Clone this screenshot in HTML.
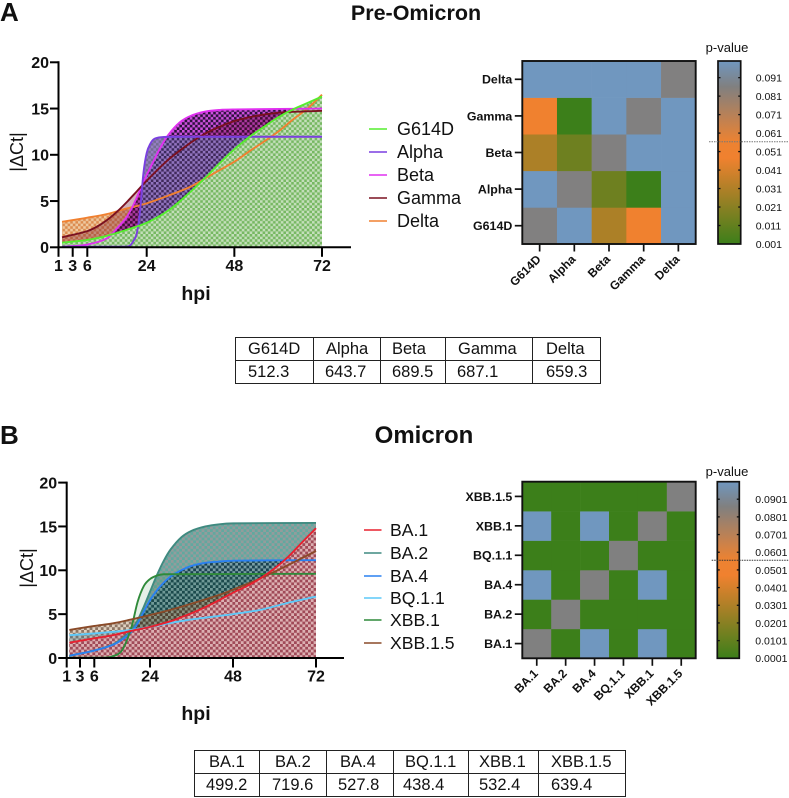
<!DOCTYPE html>
<html lang="en">
<head>
<meta charset="utf-8">
<title>Pre-Omicron and Omicron comparison</title>
<style>
html,body{margin:0;padding:0;background:#fff;}
body{width:789px;height:798px;position:relative;overflow:hidden;font-family:"Liberation Sans",Arial,sans-serif;}
svg{position:absolute;left:0;top:0;}
text{font-family:"Liberation Sans",Arial,sans-serif;fill:#111;}
table{position:absolute;border-collapse:collapse;table-layout:fixed;font-size:16.5px;color:#111;border:1.7px solid #222;}
td{border:1.4px solid #222;padding:0 0 0 0;height:22px;line-height:22px;white-space:nowrap;overflow:hidden;}
</style>
</head>
<body>
<svg id="fig" width="789" height="798" viewBox="0 0 789 798" xmlns="http://www.w3.org/2000/svg">
<defs>
<pattern id="pGreen" patternUnits="userSpaceOnUse" width="5.2" height="5.2"><rect width="5.2" height="5.2" fill="#c4dfbb"/><rect width="2.6" height="2.6" fill="#76b862"/><rect x="2.6" y="2.6" width="2.6" height="2.6" fill="#76b862"/></pattern>
<pattern id="pBeta" patternUnits="userSpaceOnUse" width="5.2" height="5.2"><rect width="5.2" height="5.2" fill="#2c0f3c"/><rect width="2.6" height="2.6" fill="#cc50dc"/><rect x="2.6" y="2.6" width="2.6" height="2.6" fill="#cc50dc"/></pattern>
<pattern id="pAlpha" patternUnits="userSpaceOnUse" width="5.2" height="5.2"><rect width="5.2" height="5.2" fill="#3f3468" fill-opacity=".72"/><rect width="2.6" height="2.6" fill="#9a80cc" fill-opacity=".85"/><rect x="2.6" y="2.6" width="2.6" height="2.6" fill="#9a80cc" fill-opacity=".85"/></pattern>
<pattern id="pDelta" patternUnits="userSpaceOnUse" width="5.2" height="5.2"><rect width="5.2" height="5.2" fill="#eec9a0"/><rect width="2.6" height="2.6" fill="#dc8c50"/><rect x="2.6" y="2.6" width="2.6" height="2.6" fill="#dc8c50"/></pattern>
<pattern id="pBA2" patternUnits="userSpaceOnUse" width="5.6" height="5.6"><rect width="5.6" height="5.6" fill="#939c9c"/><rect width="2.8" height="2.8" fill="#62a89f"/><rect x="2.8" y="2.8" width="2.8" height="2.8" fill="#62a89f"/></pattern>
<pattern id="pBA4" patternUnits="userSpaceOnUse" width="5.6" height="5.6"><rect width="5.6" height="5.6" fill="#4d9cb0" fill-opacity=".35"/><rect width="2.8" height="2.8" fill="#0f3040" fill-opacity=".85"/><rect x="2.8" y="2.8" width="2.8" height="2.8" fill="#0f3040" fill-opacity=".85"/></pattern>
<pattern id="pXBB15" patternUnits="userSpaceOnUse" width="5.6" height="5.6"><rect width="5.6" height="5.6" fill="#b08a60" fill-opacity=".4"/><rect width="2.8" height="2.8" fill="#4a2a1a" fill-opacity=".55"/><rect x="2.8" y="2.8" width="2.8" height="2.8" fill="#4a2a1a" fill-opacity=".55"/></pattern>
<pattern id="pBA1" patternUnits="userSpaceOnUse" width="5.6" height="5.6"><rect width="5.6" height="5.6" fill="#dcb0b2"/><rect width="2.8" height="2.8" fill="#a04a58"/><rect x="2.8" y="2.8" width="2.8" height="2.8" fill="#a04a58"/></pattern>
<linearGradient id="barGrad" x1="0" y1="1" x2="0" y2="0">
<stop offset="0" stop-color="#3c7f1a"/><stop offset=".47" stop-color="#f0812f"/><stop offset=".56" stop-color="#ec8232"/><stop offset=".86" stop-color="#808080"/><stop offset="1" stop-color="#7097bf"/>
</linearGradient>
</defs>

<text x="0" y="21" font-size="26" font-weight="bold">A</text>
<text x="416" y="20" font-size="21.5" font-weight="bold" text-anchor="middle">Pre-Omicron</text>
<text x="0" y="444" font-size="26" font-weight="bold">B</text>
<text x="424" y="443" font-size="24" font-weight="bold" text-anchor="middle">Omicron</text>

<text transform="translate(23,152) rotate(-90)" font-size="18" text-anchor="middle">|&#916;Ct|</text>
<text x="196" y="300" font-size="19.5" font-weight="bold" text-anchor="middle">hpi</text>
<text transform="translate(33,568) rotate(-90)" font-size="18" text-anchor="middle">|&#916;Ct|</text>
<text x="196" y="720" font-size="19.5" font-weight="bold" text-anchor="middle">hpi</text>

<g font-size="18">
<line x1="369" x2="387" y1="129" y2="129" stroke="#55ee2e" stroke-width="1.6"/><text x="397" y="135">G614D</text>
<line x1="369" x2="387" y1="152" y2="152" stroke="#7a3fe0" stroke-width="1.6"/><text x="397" y="158">Alpha</text>
<line x1="369" x2="387" y1="175" y2="175" stroke="#e030f0" stroke-width="1.6"/><text x="397" y="181">Beta</text>
<line x1="369" x2="387" y1="198" y2="198" stroke="#7a1020" stroke-width="1.6"/><text x="397" y="204">Gamma</text>
<line x1="369" x2="387" y1="221" y2="221" stroke="#f08030" stroke-width="1.6"/><text x="397" y="227">Delta</text>
</g>
<g font-size="17.6">
<line x1="364" x2="381.5" y1="530" y2="530" stroke="#e8202f" stroke-width="1.6"/><text x="390" y="536">BA.1</text>
<line x1="364" x2="381.5" y1="553" y2="553" stroke="#3f8a80" stroke-width="1.6"/><text x="390" y="559">BA.2</text>
<line x1="364" x2="381.5" y1="576" y2="576" stroke="#2a80f0" stroke-width="1.6"/><text x="390" y="582">BA.4</text>
<line x1="364" x2="381.5" y1="598" y2="598" stroke="#5cc8f8" stroke-width="1.6"/><text x="390" y="604">BQ.1.1</text>
<line x1="364" x2="381.5" y1="620" y2="620" stroke="#2f8a3a" stroke-width="1.6"/><text x="390" y="626">XBB.1</text>
<line x1="364" x2="381.5" y1="643" y2="643" stroke="#8a4a28" stroke-width="1.6"/><text x="390" y="649">XBB.1.5</text>
</g>

<text x="727" y="52" font-size="13" text-anchor="middle">p-value</text>
<text x="727" y="476" font-size="13" text-anchor="middle">p-value</text>
</svg>

<table style="left:235px;top:337px;width:365px;">
<colgroup><col style="width:78px"><col style="width:67px"><col style="width:65px"><col style="width:87px"><col style="width:68px"></colgroup>
<tr><td style="padding-left:12px">G614D</td><td style="padding-left:12px">Alpha</td><td style="padding-left:11px">Beta</td><td style="padding-left:12px">Gamma</td><td style="padding-left:13px">Delta</td></tr>
<tr><td style="padding-left:12px">512.3</td><td style="padding-left:11px">643.7</td><td style="padding-left:11px">689.5</td><td style="padding-left:11px">687.1</td><td style="padding-left:13px">659.3</td></tr>
</table>
<table style="left:194px;top:750px;width:431px;">
<colgroup><col style="width:65px"><col style="width:67px"><col style="width:67px"><col style="width:75px"><col style="width:70px"><col style="width:87px"></colgroup>
<tr><td style="padding-left:14px">BA.1</td><td style="padding-left:15px">BA.2</td><td style="padding-left:13px">BA.4</td><td style="padding-left:11px">BQ.1.1</td><td style="padding-left:10px">XBB.1</td><td style="padding-left:12px">XBB.1.5</td></tr>
<tr><td style="padding-left:11px">499.2</td><td style="padding-left:12px">719.6</td><td style="padding-left:11px">527.8</td><td style="padding-left:9px">438.4</td><td style="padding-left:10px">532.4</td><td style="padding-left:12px">639.4</td></tr>
</table>

<script>
// ---------- Panel A line-chart data ----------
const xTicks = [1, 3, 6, 24, 48, 72];
const yTicks = [0, 5, 10, 15, 20];
const g614dHours = [1.5, 6, 12, 18, 24, 30, 36, 40, 44, 48, 52, 56, 60, 64, 68, 72];
const g614dValues = [0.5, 0.8, 1.25, 1.9, 2.65, 4.0, 6.0, 7.5, 9.1, 10.6, 11.9, 13.0, 14.05, 14.9, 15.6, 16.3];
const alphaHours = [1.5, 15, 18, 19, 20, 21, 22, 23, 24, 25, 26, 28, 32, 72];
const alphaValues = [0.06, 0.06, 0.08, 0.2, 0.7, 1.5, 4, 8, 10.2, 11.2, 11.7, 11.9, 11.95, 11.95];
const betaHours = [1.5, 6, 12, 15, 18, 20, 22, 24, 26, 28, 30, 33, 36, 40, 44, 48, 72];
const betaValues = [0.05, 0.3, 0.97, 2.05, 3.3, 4.6, 6.2, 7.8, 9.4, 10.95, 12.2, 13.5, 14.2, 14.67, 14.85, 14.9, 15];
const gammaHours = [1.5, 6, 9, 12, 15, 18, 21, 24, 30, 36, 40, 44, 48, 52, 56, 60, 64, 72];
const gammaValues = [1.08, 1.75, 2.25, 2.95, 3.85, 4.9, 6.05, 7.2, 9.5, 11.3, 12.3, 13.05, 13.65, 14.05, 14.35, 14.55, 14.65, 14.75];
const deltaHours = [1.5, 6, 12, 18, 24, 30, 36, 40, 44, 48, 52, 56, 60, 64, 68, 72];
const deltaValues = [2.75, 3.2, 3.6, 4.2, 4.75, 5.6, 6.55, 7.45, 8.35, 9.25, 10.35, 11.4, 12.5, 13.8, 15, 16.5];

// ---------- Panel B line-chart data ----------
const ba1Hours = [1.4, 6, 12, 18, 24, 30, 33, 36, 40, 44, 48, 52, 56, 60, 64, 68, 72];
const ba1Values = [1.75, 2.25, 2.6, 3.1, 3.55, 4.2, 4.65, 5.1, 5.8, 6.6, 7.45, 8.2, 9.1, 10.2, 11.55, 13.2, 14.8];
const ba2Hours = [1.4, 6, 12, 15, 18, 20, 22, 24, 26, 28, 30, 33, 36, 40, 44, 48, 72];
const ba2Values = [0.25, 0.85, 1.55, 2.25, 3.2, 4.3, 5.85, 7.55, 9.45, 11.1, 12.4, 13.75, 14.5, 15, 15.25, 15.35, 15.4];
const ba4Hours = [1.4, 6, 12, 15, 18, 20, 22, 24, 26, 28, 30, 33, 36, 40, 44, 48, 72];
const ba4Values = [0.25, 0.85, 1.5, 2.1, 3, 3.95, 5.3, 6.6, 7.7, 8.6, 9.3, 10, 10.5, 10.85, 11, 11.1, 11.15];
const bq11Hours = [1.4, 6, 18, 24, 30, 36, 44, 48, 56, 64, 72];
const bq11Values = [2.6, 2.8, 3.2, 3.55, 4, 4.4, 4.8, 5, 5.5, 6.3, 7];
const xbb1Hours = [1.4, 9, 12, 15, 18, 20, 22, 24, 26, 28, 72];
const xbb1Values = [0.04, 0.04, 0.2, 0.9, 3.5, 6.4, 8.2, 9, 9.4, 9.55, 9.6];
const xbb15Hours = [1.4, 6, 12, 18, 24, 30, 36, 44, 48, 56, 64, 68, 72];
const xbb15Values = [3.2, 3.65, 3.95, 4.4, 4.9, 5.5, 6.2, 7.2, 7.8, 9.1, 10.6, 11.4, 12.2];

// ---------- Panel A heatmap data ----------
const variantsA = ['G614D', 'Alpha', 'Beta', 'Gamma', 'Delta'];
const pRowG614D = [0.086, 0.1, 0.03, 0.0475, 0.1];
const pRowAlpha = [0.1, 0.086, 0.014, 0.001, 0.1];
const pRowBeta = [0.03, 0.014, 0.086, 0.1, 0.1];
const pRowGamma = [0.0475, 0.001, 0.1, 0.086, 0.1];
const pRowDelta = [0.1, 0.1, 0.1, 0.1, 0.086];
const barTicksA = ['0.001', '0.011', '0.021', '0.031', '0.041', '0.051', '0.061', '0.071', '0.081', '0.091'];

// ---------- Panel B heatmap data ----------
const variantsB = ['BA.1', 'BA.2', 'BA.4', 'BQ.1.1', 'XBB.1', 'XBB.1.5'];
const pRowBA1 = [0.086, 0.0001, 0.1, 0.0001, 0.1, 0.0001];
const pRowBA2 = [0.0001, 0.086, 0.0001, 0.0001, 0.0001, 0.0001];
const pRowBA4 = [0.1, 0.0001, 0.086, 0.0001, 0.1, 0.0001];
const pRowBQ11 = [0.0001, 0.0001, 0.0001, 0.086, 0.0001, 0.0001];
const pRowXBB1 = [0.1, 0.0001, 0.1, 0.0001, 0.086, 0.0001];
const pRowXBB15 = [0.0001, 0.0001, 0.0001, 0.0001, 0.0001, 0.086];
const barTicksB = ['0.0001', '0.0101', '0.0201', '0.0301', '0.0401', '0.0501', '0.0601', '0.0701', '0.0801', '0.0901'];

const NS = 'http://www.w3.org/2000/svg';
const fig = document.getElementById('fig');

function make(tag, attrs, parent) {
  const el = document.createElementNS(NS, tag);
  for (const k in attrs) el.setAttribute(k, attrs[k]);
  (parent || fig).appendChild(el);
  return el;
}

// Piecewise axis: the source figure uses a segmented hour axis
function piecewise(domain, range) {
  return function (v) {
    let i = 0;
    while (i < domain.length - 2 && v > domain[i + 1]) i++;
    const t = (v - domain[i]) / (domain[i + 1] - domain[i]);
    return range[i] + t * (range[i + 1] - range[i]);
  };
}

// Smooth monotone cubic path through the points
function curvePath(px, py) {
  const n = px.length;
  const d = [], m = new Array(n);
  for (let i = 0; i < n - 1; i++) d.push((py[i + 1] - py[i]) / (px[i + 1] - px[i]));
  m[0] = d[0];
  m[n - 1] = d[n - 2];
  for (let i = 1; i < n - 1; i++) {
    if (d[i - 1] * d[i] <= 0) { m[i] = 0; continue; }
    const c = (py[i + 1] - py[i - 1]) / (px[i + 1] - px[i - 1]);
    const lim = 3 * Math.min(Math.abs(d[i - 1]), Math.abs(d[i]));
    m[i] = Math.sign(c) * Math.min(Math.abs(c), lim);
  }
  let s = 'M' + px[0].toFixed(2) + ' ' + py[0].toFixed(2);
  for (let i = 0; i < n - 1; i++) {
    const h = (px[i + 1] - px[i]) / 3;
    s += 'C' + (px[i] + h).toFixed(2) + ' ' + (py[i] + m[i] * h).toFixed(2) + ' ' +
      (px[i + 1] - h).toFixed(2) + ' ' + (py[i + 1] - m[i + 1] * h).toFixed(2) + ' ' +
      px[i + 1].toFixed(2) + ' ' + py[i + 1].toFixed(2);
  }
  return s;
}

function drawLineChart(cfg) {
  const g = make('g', {});
  
  
  const paths = cfg.series.map(function (s) {
    return { s: s, px: s.hours.map(cfg.x), py: s.values.map(cfg.y) };
  });
  paths.forEach(function (p) {
    if (!p.s.fill) return;
    const base = cfg.y(0);
    const d = curvePath(p.px, p.py) + 'L' + p.px[p.px.length - 1].toFixed(2) + ' ' + base + 'L' + p.px[0].toFixed(2) + ' ' + base + 'Z';
    const area = make('path', { d: d, fill: p.s.fill, stroke: 'none' }, g);
    
    
  });
  paths.forEach(function (p) {
    const line = make('path', { d: curvePath(p.px, p.py), fill: 'none', stroke: p.s.color, 'stroke-width': 1.9 }, g);
    
    
  });

  const y0 = cfg.y(0), y20 = cfg.y(20), x0 = cfg.x(1);
  const yAxis = make('line', { x1: x0, x2: x0, y1: y20 - 1, y2: y0 + 1, stroke: '#000', 'stroke-width': 2 }, g);
  
  
  const xAxis = make('line', { x1: x0, x2: cfg.xEnd, y1: y0, y2: y0, stroke: '#000', 'stroke-width': 2 }, g);
  
  

  yTicks.forEach(function (v) {
    const y = cfg.y(v);
    const t = make('line', { x1: x0 - 8.5, x2: x0, y1: y, y2: y, stroke: '#000', 'stroke-width': 2 }, g);
    
    
    const l = make('text', { x: x0 - 9.5, y: y + 5.8, 'font-size': 16, 'font-weight': 'bold', 'text-anchor': 'end' }, g);
    
    
    l.textContent = v;
  });
  xTicks.forEach(function (v) {
    const x = cfg.x(v);
    const t = make('line', { x1: x, x2: x, y1: y0, y2: y0 + 9.5, stroke: '#000', 'stroke-width': 2 }, g);
    
    
    const l = make('text', { x: x, y: y0 + 23.5, 'font-size': 16, 'font-weight': 'bold', 'text-anchor': 'middle' }, g);
    
    
    l.textContent = v;
  });
}

// Colour ramp shared by the heatmap cells and matching the colour-bar gradient
const rampStops = [0, 0.47, 0.56, 0.86, 1];
const rampColors = [[60, 127, 26], [240, 129, 47], [236, 130, 50], [128, 128, 128], [112, 151, 191]];
function rampColor(f) {
  f = Math.max(0, Math.min(1, f));
  let i = 0;
  while (i < rampStops.length - 2 && f > rampStops[i + 1]) i++;
  const t = (f - rampStops[i]) / (rampStops[i + 1] - rampStops[i]);
  const c = rampColors[i].map(function (a, k) { return Math.round(a + t * (rampColors[i + 1][k] - a)); });
  return 'rgb(' + c.join(',') + ')';
}

function drawHeatmap(cfg) {
  const g = make('g', {});
  
  
  const n = cfg.labels.length;
  const cw = (cfg.x1 - cfg.x0) / n, ch = (cfg.y1 - cfg.y0) / n;
  const scale = function (v) { return (v - cfg.min) / (cfg.max - cfg.min); };
  cfg.rows.forEach(function (row, r) {
    row.forEach(function (v, c) {
      const cell = make('rect', {
        x: cfg.x0 + c * cw, y: cfg.y1 - (r + 1) * ch, width: cw + 0.3, height: ch + 0.3, fill: rampColor(scale(v))
      }, g);
      
      
    });
  });
  const frame = make('rect', { x: cfg.x0, y: cfg.y0, width: cfg.x1 - cfg.x0, height: cfg.y1 - cfg.y0, fill: 'none', stroke: '#111', 'stroke-width': 1.9 }, g);
  
  
  cfg.labels.forEach(function (name, i) {
    const y = cfg.y1 - (i + 0.5) * ch;
    const x = cfg.x0 + (i + 0.5) * cw;
    const ty = make('line', { x1: cfg.x0 - 7.5, x2: cfg.x0, y1: y, y2: y, stroke: '#111', 'stroke-width': 1.7 }, g);
    
    
    const ly = make('text', { x: cfg.x0 - 10, y: y + 4.4, 'font-size': 12.4, 'font-weight': 'bold', 'text-anchor': 'end' }, g);
    
    
    ly.textContent = name;
    const tx = make('line', { x1: x, x2: x, y1: cfg.y1, y2: cfg.y1 + 7.5, stroke: '#111', 'stroke-width': 1.7 }, g);
    
    
    const lx = make('text', { transform: 'translate(' + (x + 2) + ',' + (cfg.y1 + 16) + ') rotate(-45)', 'font-size': 12, 'font-weight': 'bold', 'text-anchor': 'end' }, g);
    
    
    lx.textContent = name;
  });

  // Colour bar
  const bar = make('rect', { x: cfg.bx0, y: cfg.y0, width: cfg.bx1 - cfg.bx0, height: cfg.y1 - cfg.y0, fill: 'url(#barGrad)', stroke: '#111', 'stroke-width': 1.7 }, g);
  
  
  cfg.barTicks.forEach(function (label) {
    const y = cfg.y1 - scale(parseFloat(label)) * (cfg.y1 - cfg.y0);
    const l = make('text', { x: cfg.labelX, y: y + 3.9, 'font-size': 10.5 }, g);
    
    
    l.textContent = label;
    if (parseFloat(label) === cfg.min) return;
    const t1 = make('line', { x1: cfg.bx0, x2: cfg.bx0 + 2.5, y1: y, y2: y, stroke: '#111', 'stroke-width': 1.3 }, g);
    
    
    const t2 = make('line', { x1: cfg.bx1 - 2.5, x2: cfg.bx1, y1: y, y2: y, stroke: '#111', 'stroke-width': 1.3 }, g);
    
    
  });
  const cut = make('line', { x1: cfg.cutX, x2: 789, y1: cfg.cutY, y2: cfg.cutY, stroke: cfg.cutColor, 'stroke-width': 1, 'stroke-dasharray': '1.5 1' }, g);
  
  
}

drawLineChart({
  name: 'delta-ct-chart-pre-omicron',
  x: piecewise([1, 3, 6, 24, 72], [58.5, 72.7, 87.3, 146.7, 322]),
  y: function (v) { return 247.3 - v * 9.25; },
  xEnd: 351,
  series: [
    { name: 'delta', hours: deltaHours, values: deltaValues, color: '#f08030', fill: 'url(#pDelta)' },
    { name: 'beta', hours: betaHours, values: betaValues, color: '#e030f0', fill: 'url(#pBeta)' },
    { name: 'gamma', hours: gammaHours, values: gammaValues, color: '#7a1020', fill: 'rgba(110,10,40,0.32)' },
    { name: 'alpha', hours: alphaHours, values: alphaValues, color: '#7a3fe0', fill: 'url(#pAlpha)' },
    { name: 'g614d', hours: g614dHours, values: g614dValues, color: '#55ee2e', fill: 'url(#pGreen)' }
  ]
});

drawLineChart({
  name: 'delta-ct-chart-omicron',
  x: piecewise([1, 3, 6, 24, 72], [66.7, 80, 94.3, 150, 316]),
  y: function (v) { return 658 - v * 8.77; },
  xEnd: 344,
  series: [
    { name: 'ba2', hours: ba2Hours, values: ba2Values, color: '#3f8a80', fill: 'url(#pBA2)' },
    { name: 'ba4', hours: ba4Hours, values: ba4Values, color: '#2a80f0', fill: 'url(#pBA4)' },
    { name: 'xbb1', hours: xbb1Hours, values: xbb1Values, color: '#2f8a3a', fill: 'rgba(40,130,60,0.12)' },
    { name: 'xbb15', hours: xbb15Hours, values: xbb15Values, color: '#8a4a28', fill: 'url(#pXBB15)' },
    { name: 'bq11', hours: bq11Hours, values: bq11Values, color: '#5cc8f8', fill: 'rgba(40,120,160,0.25)' },
    { name: 'ba1', hours: ba1Hours, values: ba1Values, color: '#e8202f', fill: 'url(#pBA1)' }
  ]
});

drawHeatmap({
  name: 'p-value-heatmap-pre-omicron',
  labels: variantsA,
  rows: [pRowG614D, pRowAlpha, pRowBeta, pRowGamma, pRowDelta],
  min: 0.001, max: 0.1,
  x0: 522.3, x1: 695.7, y0: 61, y1: 244,
  bx0: 718, bx1: 740.7,
  barTicks: barTicksA,
  labelX: 755.7,
  cutX: 709, cutY: 141.7, cutColor: '#777'
});

drawHeatmap({
  name: 'p-value-heatmap-omicron',
  labels: variantsB,
  rows: [pRowBA1, pRowBA2, pRowBA4, pRowBQ11, pRowXBB1, pRowXBB15],
  min: 0.0001, max: 0.1,
  x0: 522.3, x1: 695.7, y0: 481.7, y1: 658.3,
  bx0: 717.3, bx1: 739.3,
  barTicks: barTicksB,
  labelX: 755.3,
  cutX: 711.7, cutY: 560.3, cutColor: '#333'
});
</script>
</body>
</html>
